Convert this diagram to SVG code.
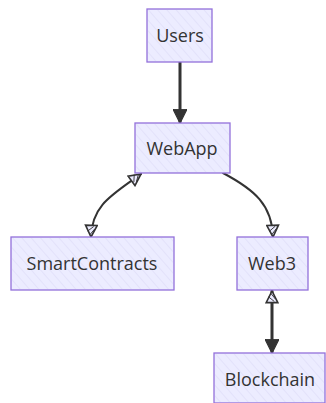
<svg xmlns="http://www.w3.org/2000/svg" width="326" height="403" viewBox="0 0 326 403">
  <style>
    .box { fill: #ECECFF; stroke: #9370DB; stroke-width: 1.3; }
    .hatch { fill: url(#hachure); stroke: none; }
    .label { font-family: "Open Sans", "Noto Sans", sans-serif; font-size: 18px; fill: #333; text-anchor: middle; dominant-baseline: central; }
    .edge { fill: none; stroke: #333; stroke-width: 2; stroke-linecap: round; }
    .thick { stroke-width: 3; }
  </style>
  <defs>
    <!-- sketchy diagonal fill for node boxes -->
    <pattern id="hachure" patternUnits="userSpaceOnUse" width="7" height="7" patternTransform="rotate(-41)">
      <line x1="0" y1="0" x2="0" y2="7" stroke="#D6D2F4" stroke-width="0.8"/>
    </pattern>
    <!-- solid arrowhead -->
    <marker id="solid" viewBox="0 0 12 12" refX="11" refY="6" markerWidth="14" markerHeight="14" markerUnits="userSpaceOnUse" orient="auto">
      <path d="M0,0 L12,6 L0,12 Z" fill="#333" stroke="#333" stroke-width="1"/>
    </marker>
    <!-- hollow arrowhead, end of line -->
    <marker id="hollowEnd" viewBox="0 0 12 12" refX="11" refY="6" markerWidth="14" markerHeight="14" markerUnits="userSpaceOnUse" orient="auto">
      <path d="M1,1 L11,6 L1,11 Z" fill="#ECECFF" stroke="#333" stroke-width="1.4"/>
      <path d="M2,4 L6,9 M4,3 L9,7" stroke="#333" stroke-width="0.8"/>
    </marker>
    <!-- hollow arrowhead, start of line -->
    <marker id="hollowStart" viewBox="0 0 12 12" refX="1" refY="6" markerWidth="14" markerHeight="14" markerUnits="userSpaceOnUse" orient="auto">
      <path d="M11,1 L1,6 L11,11 Z" fill="#ECECFF" stroke="#333" stroke-width="1.4"/>
      <path d="M10,4 L6,9 M8,3 L3,7" stroke="#333" stroke-width="0.8"/>
    </marker>
  </defs>

  <g id="edges">
    <path class="edge thick" d="M180,62 L180,122" marker-end="url(#solid)"/>
    <path class="edge" d="M141,174 C112,195 92,205 91,237" marker-start="url(#hollowStart)" marker-end="url(#hollowEnd)"/>
    <path class="edge" d="M223,173 C255,190 272,205 273,237" marker-end="url(#hollowEnd)"/>
    <path class="edge thick" d="M272,291 L272,352" marker-start="url(#hollowStart)" marker-end="url(#solid)"/>
  </g>

  <g id="Users">
    <rect class="box" x="147" y="9" width="65" height="53"/>
    <rect class="hatch" x="148" y="10" width="63" height="51"/>
    <text class="label" x="180" y="35">Users</text>
  </g>
  <g id="WebApp">
    <rect class="box" x="135" y="123" width="95" height="50"/>
    <rect class="hatch" x="136" y="124" width="93" height="48"/>
    <text class="label" x="182" y="148">WebApp</text>
  </g>
  <g id="SmartContracts">
    <rect class="box" x="11" y="237" width="163" height="53"/>
    <rect class="hatch" x="12" y="238" width="161" height="51"/>
    <text class="label" x="92" y="263">SmartContracts</text>
  </g>
  <g id="Web3">
    <rect class="box" x="237" y="237" width="71" height="53"/>
    <rect class="hatch" x="238" y="238" width="69" height="51"/>
    <text class="label" x="272" y="263">Web3</text>
  </g>
  <g id="Blockchain">
    <rect class="box" x="214" y="353" width="111" height="50"/>
    <rect class="hatch" x="215" y="354" width="109" height="48"/>
    <text class="label" x="270" y="379">Blockchain</text>
  </g>
</svg>
